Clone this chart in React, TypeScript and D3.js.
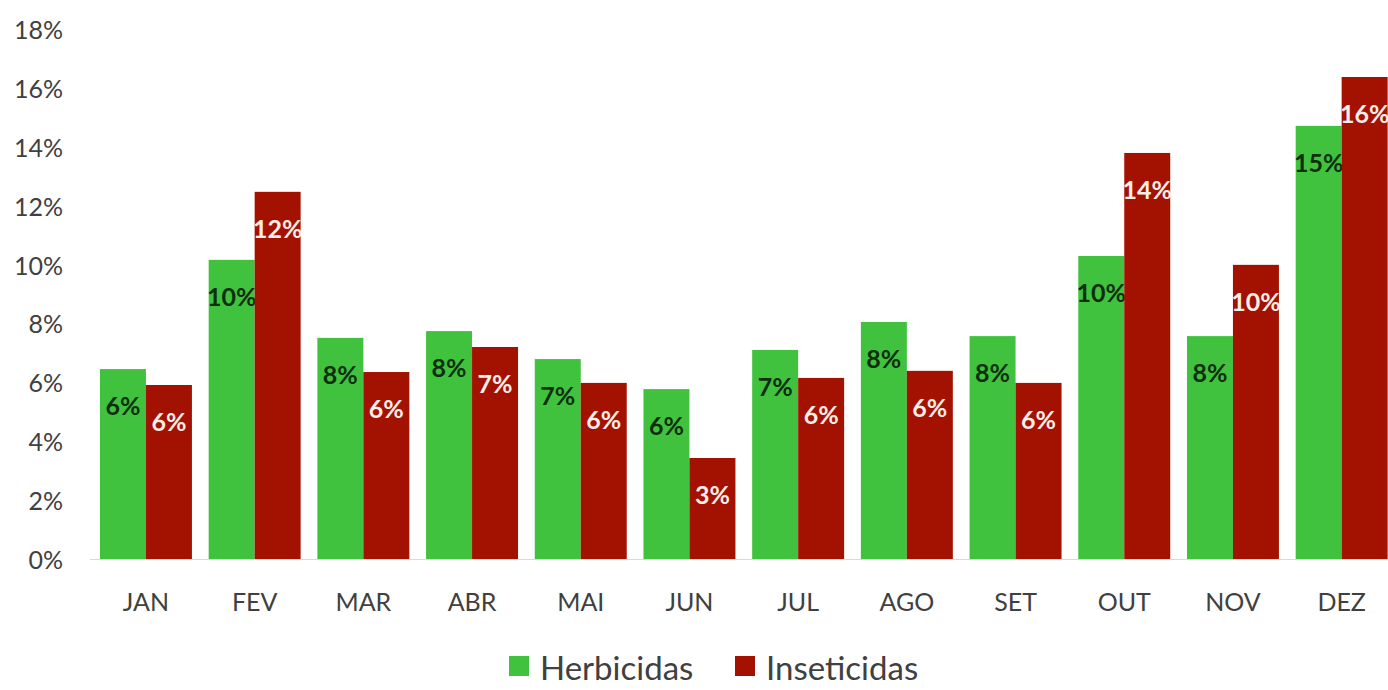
import React from "react";
import * as d3 from "d3";

const months = ["JAN", "FEV", "MAR", "ABR", "MAI", "JUN", "JUL", "AGO", "SET", "OUT", "NOV", "DEZ"];
const herbicidas = [6.45, 10.16, 7.51, 7.74, 6.79, 5.77, 7.1, 8.05, 7.57, 10.29, 7.57, 14.71];
const inseticidas = [5.91, 12.47, 6.35, 7.2, 5.98, 3.43, 6.15, 6.39, 5.98, 13.79, 9.99, 16.37];
const yTicks = [0, 2, 4, 6, 8, 10, 12, 14, 16, 18];
const seriesNames = ["Herbicidas", "Inseticidas"];
const seriesColors = ["#41C23E", "#A31200"];
const labelColors = ["#0E2E0C", "#FBEDE8"];

const W = 1388;
const H = 690;
const FONT = "Lato, 'Open Sans', sans-serif";

export default function App() {
  const x = d3.scaleBand<string>().domain(months).range([91.6, 91.6 + 12 * 108.7]).paddingInner(0.154).paddingOuter(0.077);
  const xs = d3.scaleBand<string>().domain(seriesNames).range([0, x.bandwidth()]);
  const y = d3.scaleLinear().domain([0, 18]).range([559, 29]);
  const fmt = (v: number) => d3.format(".0%")(v / 100);
  const series = [herbicidas, inseticidas];

  return (
    <svg width={W} height={H} style={{ position: "fixed", left: 0, top: 0, background: "#fff" }} fontFamily={FONT}>
      <rect x={0} y={0} width={W} height={H} fill="#fff" />
      {yTicks.map((t) => (
        <text key={t} x={63} y={y(t)} textAnchor="end" dominantBaseline="central" fontSize={25} fill="#404040">
          {t}%
        </text>
      ))}
      <line x1={90} x2={W} y1={y(0) + 0.5} y2={y(0) + 0.5} stroke="#D9D9D9" strokeWidth={1} />
      {months.map((m, i) => (
        <g key={m}>
          {series.map((vals, s) => {
            const bx = (x(m) as number) + (xs(seriesNames[s]) as number);
            const by = y(vals[i]);
            return (
              <g key={s}>
                <rect x={bx} y={by} width={xs.bandwidth()} height={y(0) - by} fill={seriesColors[s]} />
                <text
                  x={bx + xs.bandwidth() / 2}
                  y={by + 36}
                  textAnchor="middle"
                  dominantBaseline="central"
                  fontSize={25}
                  fontWeight="bold"
                  fill={labelColors[s]}
                >
                  {fmt(vals[i])}
                </text>
              </g>
            );
          })}
          <text x={(x(m) as number) + x.bandwidth() / 2} y={601} textAnchor="middle" dominantBaseline="central" fontSize={25} fill="#404040">
            {m}
          </text>
        </g>
      ))}
      <g>
        {seriesNames.map((n, s) => {
          const lx = s === 0 ? 509 : 735;
          const tx = lx + 31;
          return (
            <g key={n}>
              <rect x={lx} y={656} width={20} height={20} fill={seriesColors[s]} />
              <text x={tx} y={667} dominantBaseline="central" fontSize={33} fill="#404040">
                {n}
              </text>
            </g>
          );
        })}
      </g>
    </svg>
  );
}
